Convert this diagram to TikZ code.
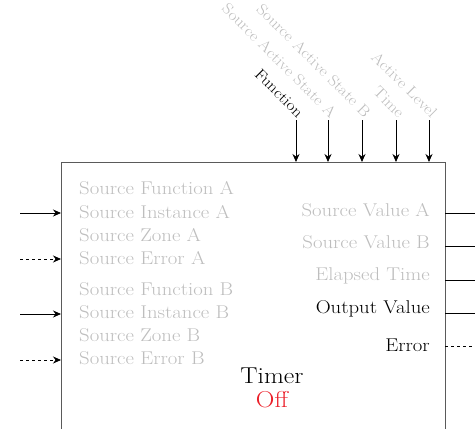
\documentclass[tikz,border=0pt]{standalone}
\usepackage{fontspec}
\setmainfont{Latin Modern Roman}[FakeStretch=1.12]
\usetikzlibrary{arrows.meta}
\definecolor{lgray}{RGB}{190,190,190}
\definecolor{boxgray}{RGB}{90,90,90}
\definecolor{offred}{RGB}{235,30,40}
\tikzset{
  lbl/.style={font=\fontsize{18.5}{20}\selectfont, inner sep=0pt},
  graylbl/.style={lbl, text=lgray},
  blacklbl/.style={lbl, text=black},
  toplbl/.style={font=\fontsize{15.5}{17}\selectfont, inner sep=0pt, rotate=-45, anchor=east},
  arr/.style={-{Stealth[length=8pt,width=7pt]}, thick},
  darr/.style={arr, dashed},
  outl/.style={thick},
  doutl/.style={thick, dashed},
}
\begin{document}
\begin{tikzpicture}[x=1pt,y=-1pt]
\useasboundingbox (0,0) rectangle (475,429);
% main box
\draw[boxgray, thick] (61,440) -- (61,162) -- (445,162) -- (445,440);
% left labels
\foreach \t/\y/\n in {Source Function A/188/la1, Source Instance A/212/la2, Source Zone A/235/la3, Source Error A/258/la4,
  Source Function B/289/lb1, Source Instance B/312/lb2, Source Zone B/335/lb3, Source Error B/358/lb4}
  \node[graylbl, anchor=west] (\n) at (79,\y) {\t};
% left arrows
\coordinate (ia1) at (20,213); \coordinate (ta1) at (61,213);
\coordinate (ia2) at (20,259); \coordinate (ta2) at (61,259);
\coordinate (ib1) at (20,314); \coordinate (tb1) at (61,314);
\coordinate (ib2) at (20,360); \coordinate (tb2) at (61,360);
\draw[arr] (ia1) -- (ta1);
\draw[darr] (ia2) -- (ta2);
\draw[arr] (ib1) -- (tb1);
\draw[darr] (ib2) -- (tb2);
% right labels
\node[graylbl, anchor=east] (r1) at (430,210) {Source Value A};
\node[graylbl, anchor=east] (r2) at (430,242) {Source Value B};
\node[graylbl, anchor=east] (r3) at (430,276) {Elapsed Time};
\node[blacklbl, anchor=east] (r4) at (430,309) {Output Value};
\node[blacklbl, anchor=east] (r5) at (430,345) {Error};
% right outputs
\coordinate (o1s) at (445,213); \coordinate (o1e) at (475,213);
\coordinate (o2s) at (445,246); \coordinate (o2e) at (475,246);
\coordinate (o3s) at (445,280); \coordinate (o3e) at (475,280);
\coordinate (o4s) at (445,313); \coordinate (o4e) at (475,313);
\coordinate (o5s) at (445,346); \coordinate (o5e) at (475,346);
\draw[outl] (o1s) -- (o1e);
\draw[outl] (o2s) -- (o2e);
\draw[outl] (o3s) -- (o3e);
\draw[outl] (o4s) -- (o4e);
\draw[doutl] (o5s) -- (o5e);
% top arrows
\foreach \x/\n in {296/t1, 328/t2, 362/t3, 396/t4, 429/t5} {
  \coordinate (\n s) at (\x,120);
  \coordinate (\n e) at (\x,162);
  \draw[arr] (\n s) -- (\n e);
}
% top labels
\node[toplbl, text=black] (f1) at (301,115) {Function};
\node[toplbl, text=lgray] (f2) at (334,115) {Source Active State A};
\node[toplbl, text=lgray] (f3) at (368,115) {Source Active State B};
\node[toplbl, text=lgray] (f4) at (402,115) {Time};
\node[toplbl, text=lgray] (f5) at (435,115) {Active Level};
% title
\node[font=\fontsize{23}{25}\selectfont, inner sep=0pt] (title) at (272,376) {Timer};
\node[font=\fontsize{23}{25}\selectfont, inner sep=0pt, text=offred] (state) at (272,400) {Off};
\end{tikzpicture}
\end{document}
